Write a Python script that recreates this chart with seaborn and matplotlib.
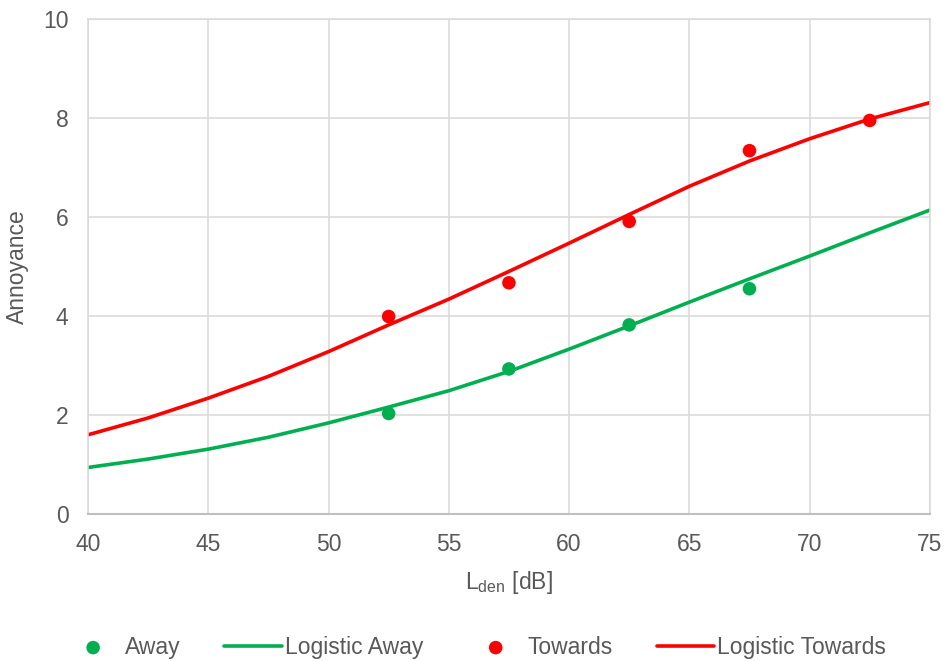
import matplotlib
matplotlib.use("Agg")
import matplotlib.pyplot as plt
import numpy as np
import pandas as pd
import seaborn as sns

# measured points
lden_pts = [52.5, 57.5, 62.5, 67.5, 72.5]
away_pts = [2.03, 2.93, 3.82, 4.55, np.nan]
towards_pts = [3.99, 4.67, 5.91, 7.34, 7.95]

# fitted logistic curves
lden_fit = [40, 42.5, 45, 47.5, 50, 52.5, 55, 57.5, 60, 62.5, 65, 67.5, 70, 72.5, 75]
away_fit = [0.94, 1.11, 1.31, 1.55, 1.84, 2.16, 2.49, 2.88, 3.33, 3.80, 4.28, 4.75, 5.21, 5.68, 6.14]
towards_fit = [1.60, 1.94, 2.34, 2.78, 3.28, 3.82, 4.34, 4.90, 5.47, 6.05, 6.62, 7.13, 7.58, 7.98, 8.31]

GREEN = "#00B050"
RED = "#FF0000"
TEXT = "#595959"
GRID = "#D9D9D9"
FS = 16.5

sns.set_theme(style="white")
plt.rcParams["font.family"] = ["Liberation Sans", "DejaVu Sans"]
plt.rcParams["mathtext.default"] = "regular"

pts = pd.DataFrame({"lden": lden_pts, "away": away_pts, "towards": towards_pts})
fit = pd.DataFrame({"lden": lden_fit, "away": away_fit, "towards": towards_fit})

fig = plt.figure(figsize=(9.45, 6.61), dpi=100)
ax = fig.add_axes([0.0931, 0.2224, 0.8909, 0.7489])

sns.scatterplot(data=pts, x="lden", y="away", color=GREEN, s=95, edgecolor="none",
                label="Away", ax=ax, zorder=3)
sns.lineplot(data=fit, x="lden", y="away", color=GREEN, linewidth=2.6,
             label="Logistic Away", ax=ax, zorder=2)
sns.scatterplot(data=pts, x="lden", y="towards", color=RED, s=95, edgecolor="none",
                label="Towards", ax=ax, zorder=3)
sns.lineplot(data=fit, x="lden", y="towards", color=RED, linewidth=2.6,
             label="Logistic Towards", ax=ax, zorder=2)

ax.set_xlim(40, 75)
ax.set_ylim(0, 10)
ax.set_xticks(range(40, 76, 5))
ax.set_yticks(range(0, 11, 2))
ax.grid(True, color=GRID, linewidth=1.1)
ax.set_axisbelow(True)
for side in ["left", "top", "right"]:
    ax.spines[side].set_color(GRID)
    ax.spines[side].set_linewidth(1.1)
ax.spines["bottom"].set_color("#BFBFBF")
ax.spines["bottom"].set_linewidth(1.5)

ax.tick_params(axis="both", length=0, labelsize=FS, labelcolor=TEXT)
ax.tick_params(axis="x", pad=14)
ax.tick_params(axis="y", pad=14)
ax.set_xlabel("L$_{den}$ [dB]", fontsize=FS, color=TEXT, labelpad=9)
ax.set_ylabel("Annoyance", fontsize=FS, color=TEXT, labelpad=10)

handles, labels = ax.get_legend_handles_labels()
ax.legend(handles, labels, loc="center", bbox_to_anchor=(0.503, 0.021),
          bbox_transform=fig.transFigure, ncol=4, frameon=False, fontsize=FS,
          labelcolor=TEXT, handlelength=2.5, handletextpad=0.15,
          columnspacing=1.9, markerscale=1.0)

fig.savefig("out.png", dpi=100)
